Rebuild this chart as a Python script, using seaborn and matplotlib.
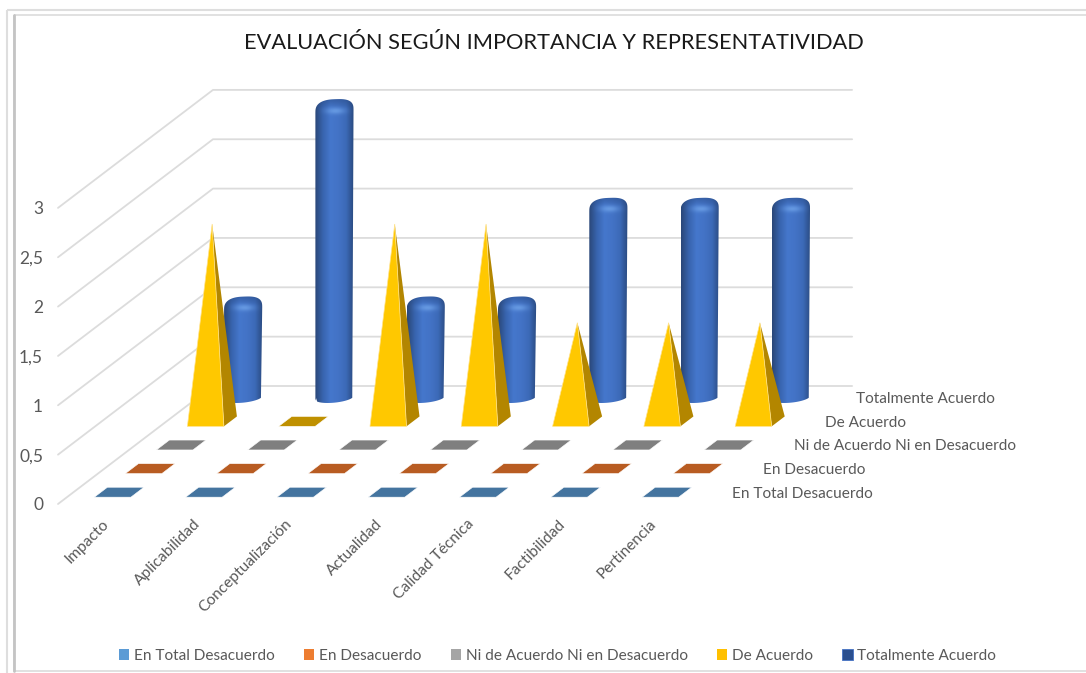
import numpy as np
import pandas as pd
import matplotlib
matplotlib.use('Agg')
import matplotlib.pyplot as plt
import seaborn as sns
from matplotlib.colors import LinearSegmentedColormap, to_rgb
from matplotlib.patches import Patch, Polygon, Rectangle
from matplotlib.path import Path

categorias = ['Impacto', 'Aplicabilidad', 'Conceptualización', 'Actualidad',
              'Calidad Técnica', 'Factibilidad', 'Pertinencia']
series = ['En Total Desacuerdo', 'En Desacuerdo', 'Ni de Acuerdo Ni en Desacuerdo',
          'De Acuerdo', 'Totalmente Acuerdo']
total_desacuerdo = [0, 0, 0, 0, 0, 0, 0]
desacuerdo = [0, 0, 0, 0, 0, 0, 0]
neutro = [0, 0, 0, 0, 0, 0, 0]
de_acuerdo = [2, 0, 2, 2, 1, 1, 1]
totalmente = [1, 3, 1, 1, 2, 2, 2]
valores = [total_desacuerdo, desacuerdo, neutro, de_acuerdo, totalmente]
ticks_y = [0, 0.5, 1, 1.5, 2, 2.5, 3]

colores_leyenda = ['#5b9bd5', '#ed7d31', '#a5a5a5', '#ffc000', '#2b4f8f']
colores_planos = ['#44749f', '#b85c22', '#7f7f7f', '#bf9000']
GRIS = '#595959'

# oblique projection of the excel 3d box, in figure pixels
X0, Y0 = 58, 504
PASO_CAT, PASO_SER = 91.3, 31
CAIDA_SER, PASO_VAL = 23.6, 98.7


def proyectar(cat, ser, val=0):
    x = X0 + (cat + .5) * PASO_CAT + (ser + .5) * PASO_SER
    y = Y0 - (ser + .5) * CAIDA_SER - val * PASO_VAL
    return x, y


def huella(cat, ser, a=.2, b=.21):
    return [proyectar(cat - a, ser - b), proyectar(cat + a, ser - b),
            proyectar(cat + a, ser + b), proyectar(cat - a, ser + b)]


def piramide(ax, cat, ser, val):
    esquinas = huella(cat, ser)
    apice = proyectar(cat, ser, val)
    ax.add_patch(Polygon([esquinas[1], esquinas[2], apice], fc='#b38600', ec='none', zorder=4))
    ax.add_patch(Polygon([esquinas[0], esquinas[1], apice], fc='#ffc800', ec='#ffe28a', lw=.5, zorder=4))


def elipse(cat, ser, val, a=.195, b=.22, t=np.linspace(0, 2 * np.pi, 73)):
    x, y = proyectar(cat + a * np.cos(t), ser + b * np.sin(t), val)
    return np.column_stack([x, y])


cmap_cuerpo = LinearSegmentedColormap.from_list(
    'cuerpo', ['#2a4778', '#3864ae', '#4577cc', '#4373c6', '#3c6ab8', '#2a4a80'])


def cilindro(ax, cat, ser, val):
    base = elipse(cat, ser, 0)
    izq, der = base[:, 0].min(), base[:, 0].max()
    cx = (izq + der) / 2
    semi = (der - izq) / 2
    _, y_centro = proyectar(cat, ser, val)
    y_top = y_centro - 2.5

    # silhouette: lower half of the base, sides, rounded shoulders on top
    abajo = base[base[:, 1] >= np.median(base[:, 1])]
    abajo = abajo[np.argsort(abajo[:, 0])]
    t = np.linspace(0, np.pi, 41)
    hombro_x = cx + semi * np.sign(np.cos(t)) * np.abs(np.cos(t)) ** .75
    hombro_y = y_top + 12 - 12 * np.sin(t) ** .7 - 1.5 * np.cos(t)
    silueta = Path(np.vstack([abajo, np.column_stack([hombro_x, hombro_y]), abajo[:1]]))
    y_bot = abajo[:, 1].max()

    yy, xx = np.mgrid[y_top - 3:y_bot + 1:400j, izq:der:120j]
    rgba = cmap_cuerpo((xx - izq) / (der - izq))
    # darker back rim, then a soft highlight in the middle of the cap
    oscuro = np.clip((y_top + 9 - yy) / 10, 0, 1)[..., None] * .55
    rgba[..., :3] = rgba[..., :3] * (1 - oscuro) + np.array(to_rgb('#27487f')) * oscuro
    brillo = np.exp(-((xx - cx - 1) / 9) ** 2 - ((yy - y_top - 11.5) / 3.2) ** 2)[..., None] * .85
    rgba[..., :3] = rgba[..., :3] * (1 - brillo) + np.array(to_rgb('#6b9fe6')) * brillo
    im = ax.imshow(rgba, extent=(izq, der, y_bot + 1, y_top - 3), aspect='auto', zorder=3)
    im.set_clip_path(silueta, ax.transData)


sns.set_theme(style='white')
plt.rcParams['font.family'] = ['Lato', 'DejaVu Sans']

fig = plt.figure(figsize=(10.86, 6.73), dpi=100)
ax = fig.add_axes([0, 0, 1, 1])

# wall gridlines: front of the left wall, back corner, end of the back wall
filas = []
for v in ticks_y:
    for orden, (cat, ser) in enumerate([(-.5, -.5), (-.5, 4.5), (6.5, 4.5)]):
        px, py = proyectar(cat, ser, v)
        filas.append({'valor': v, 'orden': orden, 'px': px, 'py': py})
rejilla = pd.DataFrame(filas)
sns.lineplot(data=rejilla, x='px', y='py', units='valor', estimator=None, sort=False,
             color='#dcdcdc', linewidth=1.3, legend=False, ax=ax, zorder=1)

# back to front so nearer marks hide the farther ones
for s in range(len(series) - 1, -1, -1):
    for c, v in enumerate(valores[s]):
        if v == 0:
            ax.add_patch(Polygon(huella(c, s), fc=colores_planos[s], ec='#ffffff', lw=.4, zorder=2))
        elif s == 4:
            cilindro(ax, c, s, v)
        else:
            piramide(ax, c, s, v)

for v in ticks_y:
    px, py = proyectar(-.5, -.5, v)
    ax.text(px - 15, py + 1.5, f'{v:g}'.replace('.', ','), ha='right', va='center',
            fontsize=12.5, color=GRIS)

for c, nombre in enumerate(categorias):
    px, py = proyectar(c, -.5)
    ax.text(px - 2, py + 13, nombre, rotation=45, rotation_mode='anchor', ha='right', va='top',
            fontsize=11.2, color=GRIS)

for s, nombre in enumerate(series):
    px, py = proyectar(6.5, s)
    ax.text(px + 19, py + 1.5, nombre, ha='left', va='center', fontsize=11.1, color=GRIS)

ax.text(553.5, 43, 'EVALUACIÓN SEGÚN IMPORTANCIA Y REPRESENTATIVIDAD', ha='center', va='center',
        fontsize=15.7, color='#1a1a1a')

manejadores = [Patch(fc=col, ec='none') for col in colores_leyenda]
manejadores[-1] = Patch(fc=colores_leyenda[-1], ec='#4472c4', lw=.6)
ax.legend(manejadores, series, ncol=5, loc='center', bbox_to_anchor=(557.5, 656),
          bbox_transform=ax.transData, frameon=False, fontsize=11.1, labelcolor=GRIS,
          handlelength=.68, handleheight=.68, handletextpad=.3, columnspacing=1.9,
          borderpad=0, borderaxespad=0)

# screenshot frame around the chart
ax.add_patch(Rectangle((7, 10), 1090, 680, fc='none', ec='#dedede', lw=1.5, zorder=6))
ax.add_patch(Rectangle((14, 15), 1090, 656, fc='none', ec='#dcdcdc', lw=1.2, zorder=6))
ax.plot([14, 14], [15, 671], color='#c4c4c4', lw=2, zorder=6)

ax.set_xlim(0, 1086)
ax.set_ylim(673, 0)
ax.set_axis_off()

plt.savefig('out.png', dpi=100)
plt.close()
